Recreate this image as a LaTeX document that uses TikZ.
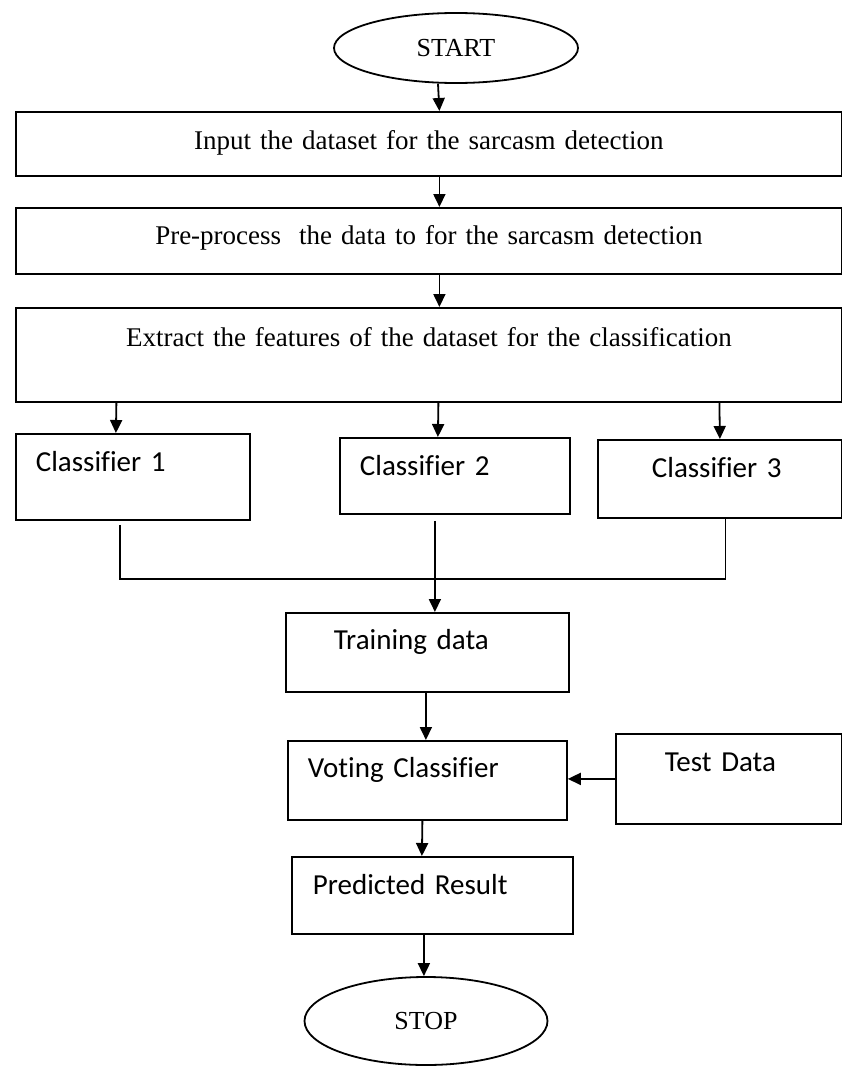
\documentclass[tikz,border=0pt]{standalone}
\usepackage{fontspec}
\setmainfont{Liberation Serif}
\newfontfamily\calib[Ligatures=NoCommon]{Carlito}
\usetikzlibrary{shapes.geometric,arrows.meta}

\begin{document}
\begin{tikzpicture}[x=1pt,y=-1pt,
	box/.style={draw,line width=1.8pt,rectangle,anchor=north west,inner ysep=0pt,align=left},
	serifbox/.style={box,inner xsep=0pt,align=center,text width=826pt,font=\fontsize{27}{30}\selectfont},
	sansbox/.style={box,font=\calib\fontsize{29}{32}\selectfont},
	oval/.style={draw,ellipse,line width=1.8pt,inner sep=0pt,font=\fontsize{26}{28}\selectfont},
	link/.style={line width=1.8pt},
	arr/.style={link,-{Triangle[length=13pt,width=12pt]}}]
	\useasboundingbox (0,0) rectangle (841,1068);
	
	\node[oval,minimum width=244pt,minimum height=70pt] (start) at (456,48) {START};
	\node[serifbox,text height=38pt,text depth=26pt] (inp) at (15,111) {Input the dataset for the sarcasm detection};
	\node[serifbox,text height=37pt,text depth=29pt] (prep) at (15,207) {Pre-process\ \ the data to for the sarcasm detection};
	\node[serifbox,text height=39pt,text depth=55pt] (ext) at (15,307) {Extract the features of the dataset for the classification};
	
	\node[sansbox,inner xsep=20pt,text width=194pt,text height=38pt,text depth=48pt] (c1) at (15,433) {Classifier 1};
	\node[sansbox,inner xsep=20pt,text width=190pt,text height=38pt,text depth=38pt] (c2) at (339,437) {Classifier 2};
	\node[sansbox,inner xsep=54pt,text width=136pt,text height=38pt,text depth=40pt] (c3) at (597,439) {Classifier 3};
	
	\node[sansbox,inner xsep=48pt,text width=187pt,text height=37pt,text depth=42pt] (train) at (285,612) {Training data};
	\node[sansbox,inner xsep=20pt,text width=239pt,text height=37pt,text depth=42pt] (vote) at (287,740) {Voting Classifier};
	\node[sansbox,inner xsep=49pt,text width=128pt,text height=38pt,text depth=52pt] (test) at (615,733) {Test Data};
	\node[sansbox,inner xsep=21pt,text width=239pt,text height=38pt,text depth=39pt] (pred) at (291,856) {Predicted Result};
	\node[oval,minimum width=243pt,minimum height=88pt] (stop) at (426,1021) {STOP};
	
	\draw[arr] ([xshift=-18pt]start.south) -- ([xshift=10.5pt]inp.north);
	\draw[arr] ([xshift=10.5pt]inp.south) -- ([xshift=10.5pt]prep.north);
	\draw[arr] ([xshift=10.5pt]prep.south) -- ([xshift=10.5pt]ext.north);
	
	\draw[arr] ([xshift=-312.5pt]ext.south) -- ([xshift=-17pt]c1.north);
	\draw[arr] ([xshift=9.5pt]ext.south) -- ([xshift=-17pt]c2.north);
	\draw[arr] ([xshift=290.5pt]ext.south) -- (c3.north);
	
	\coordinate (merge) at (434,579);
	\draw[link] ([xshift=-13pt,yshift=-4pt]c1.south) |- (merge);
	\draw[link] ([xshift=5.5pt]c3.south) |- (merge);
	\draw[arr] ([xshift=-20pt,yshift=-6pt]c2.south) -- ([xshift=7.5pt]train.north);
	
	\draw[arr] ([xshift=-1.5pt]train.south) -- ([xshift=-1.5pt]vote.north);
	\draw[arr] (test.west) -- (test.west -| vote.east);
	\draw[arr] ([xshift=-5pt]vote.south) -- ([xshift=-10.5pt]pred.north);
	\draw[arr] ([xshift=-8.5pt]pred.south) -- ([xshift=-8.5pt]pred.south |- stop.north);
\end{tikzpicture}
\end{document}
